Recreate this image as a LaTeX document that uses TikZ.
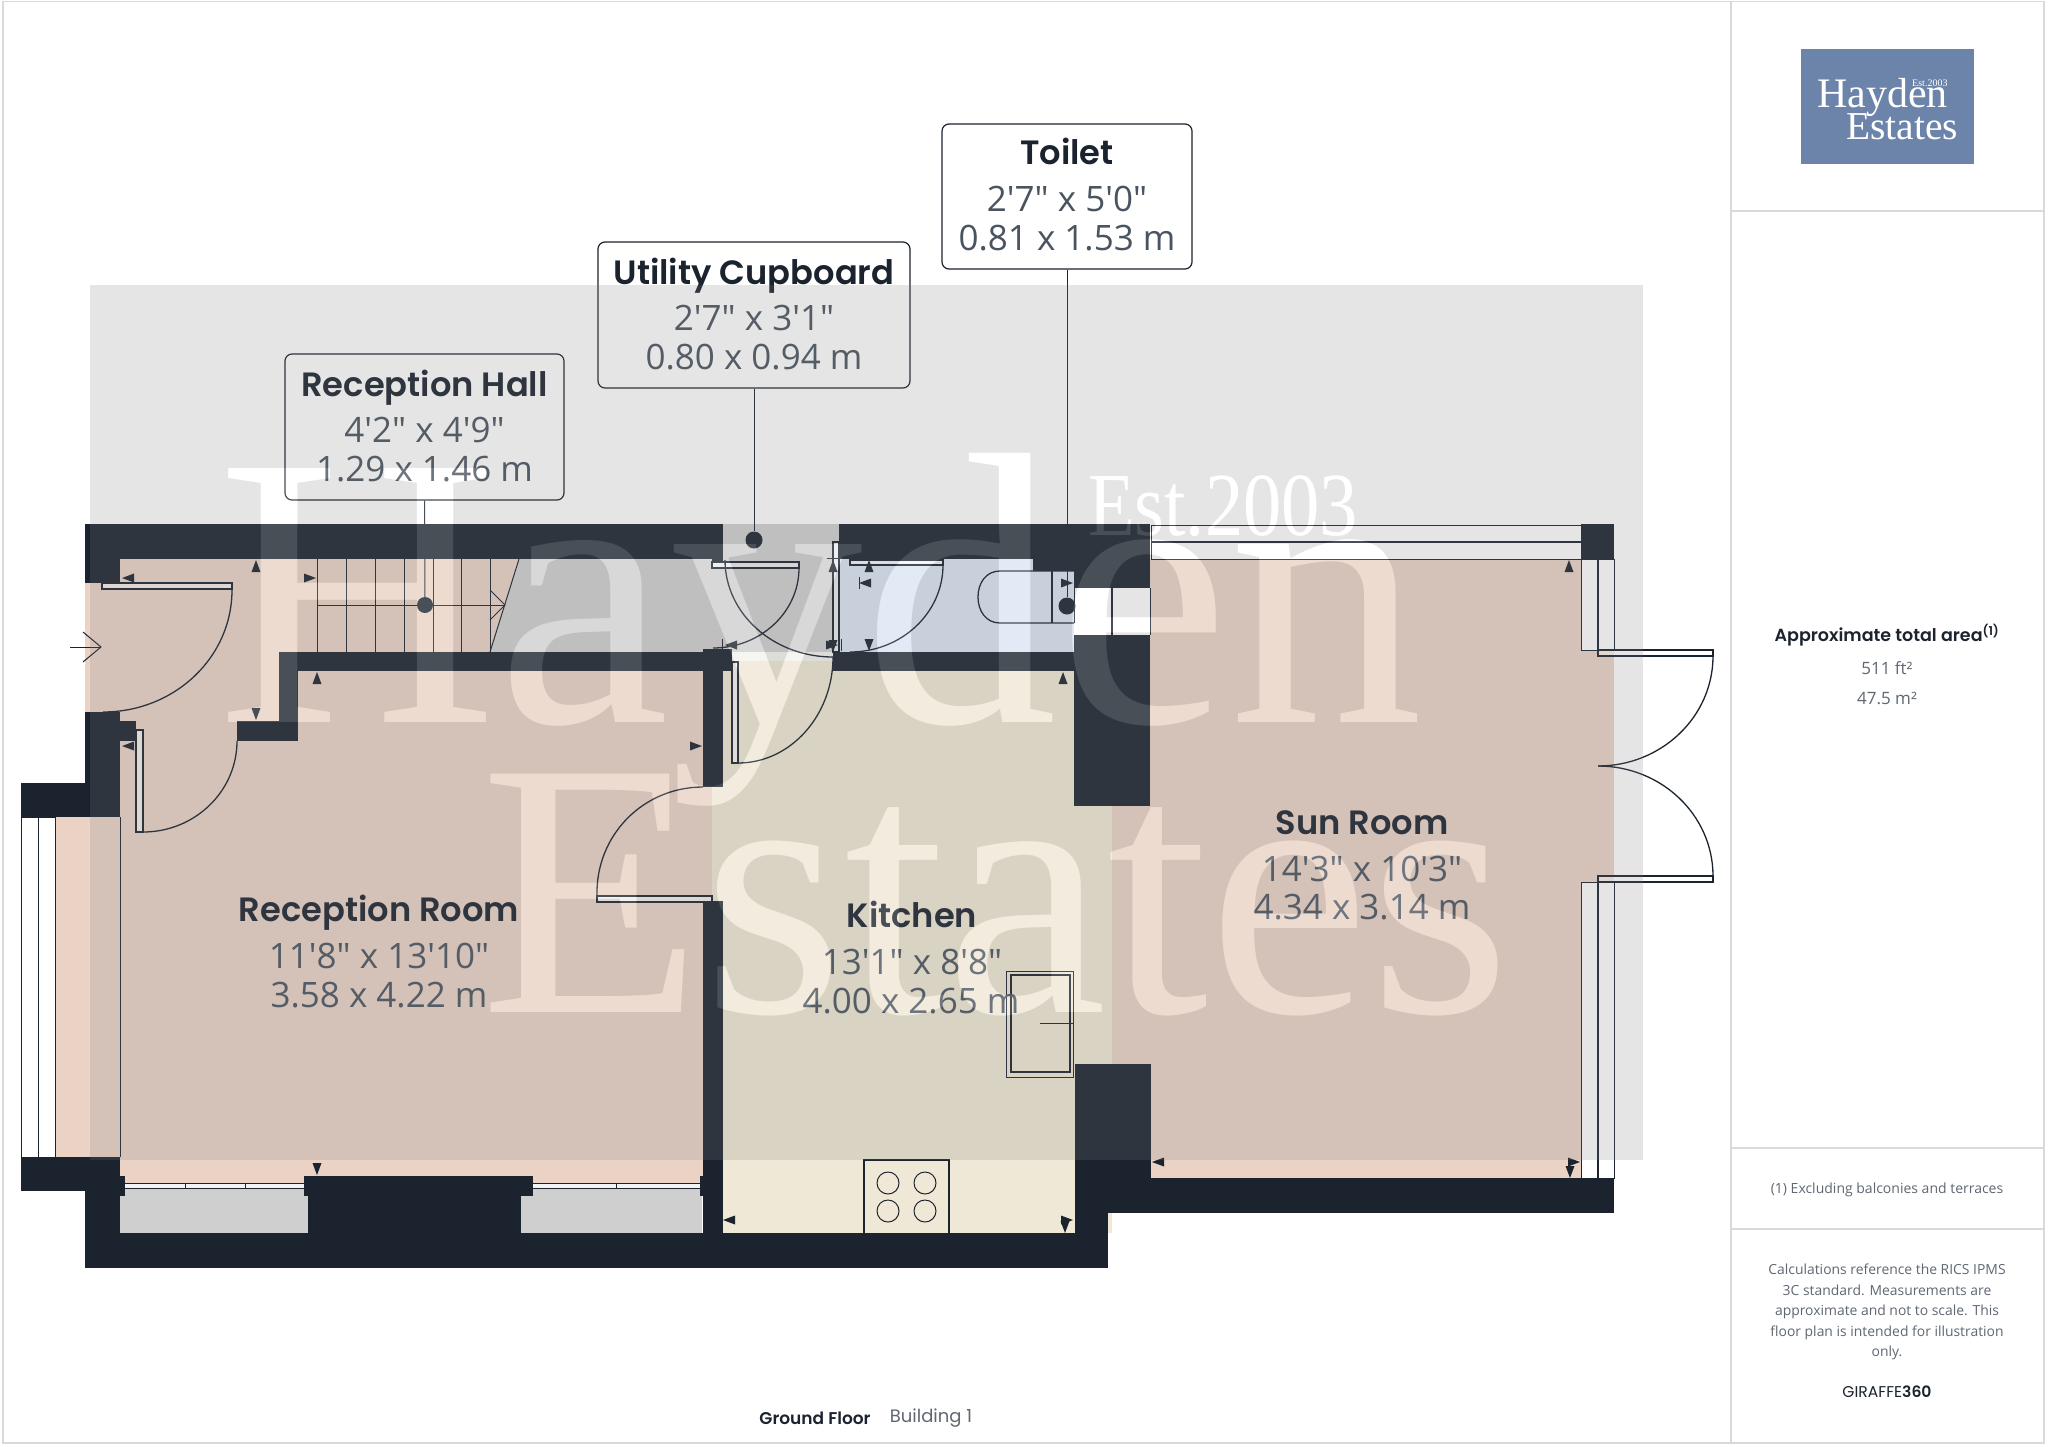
\documentclass[tikz,border=0pt]{standalone}
\usepackage{fontspec}
\usetikzlibrary{fadings}
\setmainfont{Open Sans}
\newfontfamily\subfont{Open Sans}
\newfontfamily\ttlfont{Poppins}[BoldFont={Poppins SemiBold}]
\newfontfamily\wmfont{Liberation Serif}
\definecolor{wallc}{HTML}{1B232E}
\definecolor{peach}{HTML}{EAD2C5}
\definecolor{creamc}{HTML}{F0E8D6}
\definecolor{stairc}{HTML}{CFCFCF}
\definecolor{toiletc}{HTML}{DBE5F4}
\definecolor{threshc}{HTML}{F3F3EE}
\definecolor{subc}{HTML}{4A5360}
\definecolor{panelc}{HTML}{D9D9D9}
\definecolor{graytx}{HTML}{5F6872}
\definecolor{logoc}{HTML}{6C84A9}
\tikzset{
  wall/.style={fill=wallc,draw=none},
  ln/.style={draw=wallc,line width=1.3pt},
  tn/.style={draw=wallc,line width=1pt},
  leaf/.style={draw=wallc,line width=1.2pt,fill=white,fill opacity=.6},
  winstrip/.style={fill=white,draw=wallc,line width=1pt},
  lblbox/.style={draw=wallc,line width=1.2pt,fill=white,rounded corners=7pt,inner sep=0pt},
  dotn/.style={circle,fill=wallc,inner sep=0pt,minimum size=17pt},
  rtitle/.style={text=wallc,anchor=base,font=\ttlfont\bfseries\fontsize{33.7}{38}\selectfont,inner sep=0pt},
  rsub/.style={text=subc,font=\subfont\fontsize{35}{40}\selectfont,inner sep=0pt},
  ptxt/.style={text=graytx,font=\subfont\fontsize{14}{18}\selectfont,inner sep=0pt},
  wm/.style={inner sep=0pt,anchor=base west},
  wma/.style={wm,font=\wmfont\fontsize{388}{388}\selectfont},
  wmb/.style={wm,font=\wmfont\fontsize{364}{364}\selectfont},
  wmc/.style={wm,font=\wmfont\fontsize{90}{90}\selectfont},
}
\newcommand\wb[4]{\fill[wall] (#1,#2) rectangle (#3,#4);}
\newcommand\qarc[6]{\draw[ln] (#1,#2) .. controls ({#1+.5523*(#3-#5)},{#2+.5523*(#4-#6)}) and ({#3+.5523*(#1-#5)},{#4+.5523*(#2-#6)}) .. (#3,#4);}
\newcommand\mk[3]{\fill[wallc,shift={(#1,#2)},rotate=#3] (0,0)--(-12,-4.5)--(-12,4.5)--cycle;}
\begin{tikzfadingfrompicture}[name=wmfade,x=1pt,y=-1pt]
\useasboundingbox (90,285) rectangle (1643,1160);
\fill[transparent!0] (90,285) rectangle (1643,1160);
\node[wma,text=transparent!100] (fa) at (217,722) {Hayden};
\node[wmb,text=transparent!100] (fb) at (480,1012) {Estates};
\node[wmc,text=transparent!100] (fc) at (1088,535) {\scalebox{.85}[1]{Est.2003}};
\end{tikzfadingfrompicture}
\begin{document}
\begin{tikzpicture}[x=1pt,y=-1pt]
\useasboundingbox (0,0) rectangle (2048,1446);
\fill[white] (0,0) rectangle (2048,1446);
% floors
\fill[peach] (85,559) rectangle (712,1184);
\fill[peach] (55,817) rectangle (120,1157);
\fill[creamc] (712,661) rectangle (1112,1233);
\fill[peach] (1112,559) rectangle (1614,1178);
\fill[stairc] (519,559) -- (490,652) -- (833,652) -- (833,560) -- cycle;
\fill[stairc] (723,524) rectangle (839,652);
\fill[threshc] (732,652) rectangle (833,661);
\fill[toiletc] (839,559) rectangle (1074,652);
\fill[stairc] (120,1188) rectangle (308,1233);
\fill[stairc] (521,1188) rectangle (702,1233);
% window strips
\draw[winstrip] (21,817) rectangle (55,1157);
\draw[tn] (38,817) -- (38,1157);
\draw[tn] (120,817) -- (120,1157);
\draw[winstrip] (1151,525) rectangle (1581,559);
\draw[ln] (1151,542) -- (1581,542);
\draw[winstrip] (1581,559) rectangle (1614,650);
\draw[ln] (1598,559) -- (1598,650);
\draw[winstrip] (1581,882) rectangle (1614,1178);
\draw[ln] (1598,882) -- (1598,1178);
\fill[white] (1074,588) rectangle (1150,635);
\draw[ln] (1112,588) -- (1112,635);
\draw[tn] (1150,588) -- (1150,635);
% bottom windows
\fill[white!75!stairc] (125,1183) rectangle (304,1188);
\fill[white!75!stairc] (533,1183) rectangle (700,1188);
\draw[tn] (125,1183) -- (304,1183) (125,1188) -- (304,1188) (185,1183) -- (185,1188) (245,1183) -- (245,1188);
\draw[tn] (533,1183) -- (700,1183) (533,1188) -- (700,1188) (616,1183) -- (616,1188);
% walls
\wb{85}{524}{723}{559}
\wb{85}{524}{120}{583}
\wb{85}{712}{120}{817}
\wb{120}{721}{136}{741}
\wb{237}{721}{298}{741}
\wb{279}{652}{298}{741}
\wb{279}{652}{732}{671}
\wb{703}{652}{723}{787}
\wb{703}{901}{723}{1268}
\wb{21}{783}{85}{817}
\wb{21}{1157}{120}{1191}
\wb{85}{1157}{120}{1268}
\wb{85}{1233}{1108}{1268}
\wb{120}{1176}{125}{1196}
\wb{304}{1176}{533}{1196}
\wb{308}{1176}{521}{1233}
\wb{700}{1176}{703}{1196}
\wb{1075}{1064}{1151}{1213}
\wb{1075}{1178}{1108}{1268}
\wb{1075}{1178}{1614}{1213}
\wb{839}{524}{1150}{559}
\wb{1033}{559}{1150}{571}
\wb{1074}{571}{1150}{588}
\wb{1074}{635}{1150}{806}
\wb{833}{652}{1074}{671}
\wb{1581}{524}{1614}{559}
\wb{712}{559}{723}{562}
\wb{703}{649}{732}{652}
% stairs
\draw[tn] (317,559) -- (317,652) (346,559) -- (346,652) (375,559) -- (375,652) (404,559) -- (404,652) (433,559) -- (433,652) (461.5,559) -- (461.5,652) (490,559) -- (490,652);
\draw[tn] (519,559) -- (490,652);
\draw[tn] (317,605) -- (505,605);
\draw[tn] (490,590) -- (505,605) -- (490,620);
% doors
\draw[leaf] (102,583) rectangle (232,589);
\qarc{232}{589}{103}{712}{102}{589}
\draw[tn] (70,647) -- (101,647);
\draw[tn] (83,632) -- (101,647) -- (83,662);
\draw[leaf] (136,730) rectangle (143,832);
\qarc{143}{832}{237}{741}{143}{741}
\draw[leaf] (597,896) rectangle (712,902);
\qarc{597}{896}{703}{787}{706}{896}
\draw[leaf] (712,562) rectangle (799,568);
\qarc{799}{568}{713}{648}{713}{568}
\qarc{725}{560}{833}{657}{833}{560}
\draw[leaf] (833,542) rectangle (839,652);
\draw[leaf] (732,662) rectangle (738,763);
\qarc{738}{763}{833}{657}{738}{657}
\draw[leaf] (850,560) rectangle (943,565);
\qarc{943}{565}{850}{652}{850}{565}
\draw[leaf] (1598,650) rectangle (1713,656);
\qarc{1713}{656}{1598}{766}{1598}{656}
\draw[leaf] (1598,876) rectangle (1713,882);
\qarc{1713}{876}{1598}{766}{1598}{876}
% toilet
\draw[ln] (1074,571) -- (1000,571) .. controls (986,571) and (978,583) .. (978,597) .. controls (978,611) and (986,623) .. (1000,623) -- (1074,623);
\draw[ln] (1052,571) -- (1052,623);
\draw[tn] (1074,571) -- (1074,623);
% kitchen fixtures
\draw[ln] (864,1233) -- (864,1160) -- (949,1160) -- (949,1233);
\draw[tn] (888,1183) circle[x radius=11,y radius=11] (925,1183) circle[x radius=11,y radius=11] (888,1211) circle[x radius=11,y radius=11] (925,1211) circle[x radius=11,y radius=11];
\draw[tn] (1006,971) rectangle (1073,1077);
\draw[ln] (1011,975) rectangle (1070,1072);
\draw[tn] (1040,1023) -- (1073,1023);
% measure markers
\mk{122}{578}{180}\mk{256}{560}{90}\mk{316}{578}{0}\mk{317}{672}{90}\mk{256}{720}{270}
\mk{122}{746}{180}\mk{702}{746}{0}\mk{317}{1175}{270}
\mk{833}{560}{90}\mk{869}{560}{90}\mk{859}{583}{180}\mk{869}{651}{270}
\mk{725}{645}{180}\mk{838}{645}{0}\mk{833}{652}{270}
\mk{1073}{583}{0}\mk{1063}{672}{90}\mk{1569}{560}{90}
\mk{1152}{1162}{180}\mk{1580}{1162}{0}\mk{1570}{1178}{270}
\mk{723}{1220}{180}\mk{1073}{1220}{0}\mk{1065}{1233}{270}
\draw[tn] (859,577) -- (859,589) (722,639) -- (722,651) (827,558) -- (839,558) (841,639) -- (841,651);
% labels
\node[lblbox,minimum width=279pt,minimum height=146pt] (hallbox) at (424.5,427) {};
\node[lblbox,minimum width=312pt,minimum height=146pt] (utilbox) at (754,315) {};
\node[lblbox,minimum width=250pt,minimum height=145pt] (toilbox) at (1067,196.5) {};
\node[dotn,minimum size=16pt] (halldot) at (425,605) {};
\node[dotn] (utildot) at (754,540) {};
\node[dotn] (toildot) at (1067,606) {};
\draw[tn] (hallbox.south) -- (halldot);
\draw[tn] (utilbox.south) -- (utildot);
\draw[tn] (toilbox.south) -- (toildot);
\node[rtitle] (t1) at (424.5,396) {Reception Hall};
\node[rsub] (t1a) at (424.5,430) {4'2" x 4'9"};
\node[rsub] (t1b) at (424.5,469) {1.29 x 1.46 m};
\node[rtitle] (t2) at (754,284) {Utility Cupboard};
\node[rsub] (t2a) at (754,318) {2'7" x 3'1"};
\node[rsub] (t2b) at (754,357) {0.80 x 0.94 m};
\node[rtitle] (t3) at (1067,164) {Toilet};
\node[rsub] (t3a) at (1067,199) {2'7" x 5'0"};
\node[rsub] (t3b) at (1067,238) {0.81 x 1.53 m};
\node[rtitle] (t4) at (379,921) {Reception Room};
\node[rsub] (t4a) at (379,956) {11'8" x 13'10"};
\node[rsub] (t4b) at (379,995) {3.58 x 4.22 m};
\node[rtitle] (t5) at (912,927) {Kitchen};
\node[rsub] (t5a) at (912,962) {13'1" x 8'8"};
\node[rsub] (t5b) at (911,1001) {4.00 x 2.65 m};
\node[rtitle] (t6) at (1362,834) {Sun Room};
\node[rsub] (t6a) at (1362,869) {14'3" x 10'3"};
\node[rsub] (t6b) at (1362,907) {4.34 x 3.14 m};
% watermark: gray veil with the letters cut out, then white letters
\fill[gray,opacity=.2,path fading=wmfade,fit fading=false,fading transform={shift={(866.5,722.5)}}] (90,285) rectangle (1643,1160);
\node[wma,text=white,text opacity=.2] (wm1) at (217,722) {Hayden};
\node[wmb,text=white,text opacity=.2] (wm2) at (480,1012) {Estates};
\node[wmc,text=white,text opacity=.2] (wm3) at (1088,535) {\scalebox{.85}[1]{Est.2003}};
% panel
\draw[panelc,line width=1.5pt] (3,1.5) rectangle (2044,1443);
\draw[panelc,line width=1.5pt] (1731,1.5) -- (1731,1443);
\draw[panelc,line width=1.5pt] (1731,211) -- (2044,211) (1731,1148) -- (2044,1148) (1731,1229) -- (2044,1229);
\fill[logoc] (1801,49) rectangle (1974,164);
\node[text=white,inner sep=0pt,anchor=base west,font=\wmfont\fontsize{42}{42}\selectfont] (lg1) at (1817,107) {Hayden};
\node[text=white,inner sep=0pt,anchor=base west,font=\wmfont\fontsize{39.5}{40}\selectfont] (lg2) at (1846,139) {Estates};
\node[text=white,inner sep=0pt,anchor=base west,font=\wmfont\fontsize{10}{10}\selectfont] (lg3) at (1912,86) {Est.2003};
\node[text=wallc,inner sep=0pt,font=\ttlfont\bfseries\fontsize{17.5}{20}\selectfont] (area) at (1887,635) {Approximate total area\textsuperscript{(1)}};
\node[ptxt,font=\subfont\fontsize{17}{20}\selectfont] (a1) at (1887,668) {511 ft²};
\node[ptxt,font=\subfont\fontsize{17}{20}\selectfont] (a2) at (1887,698) {47.5 m²};
\node[ptxt] (fn) at (1887,1190) {(1) Excluding balconies and terraces};
\node[ptxt,align=center,font=\subfont\fontsize{13.9}{20.6}\selectfont] (calc) at (1887,1312) {Calculations reference the RICS IPMS\\3C standard. Measurements are\\approximate and not to scale. This\\floor plan is intended for illustration\\only.};
\node[text=wallc,inner sep=0pt,font=\ttlfont\fontsize{15.6}{18}\selectfont] (gir) at (1887,1392) {GIRAFFE{\bfseries 360}};
\node[text=wallc,inner sep=0pt,font=\ttlfont\bfseries\fontsize{17}{20}\selectfont] (gf) at (815,1418) {Ground Floor};
\node[text=graytx,inner sep=0pt,font=\ttlfont\fontsize{18}{20}\selectfont] (bd) at (931,1418) {Building 1};
\end{tikzpicture}
\end{document}
